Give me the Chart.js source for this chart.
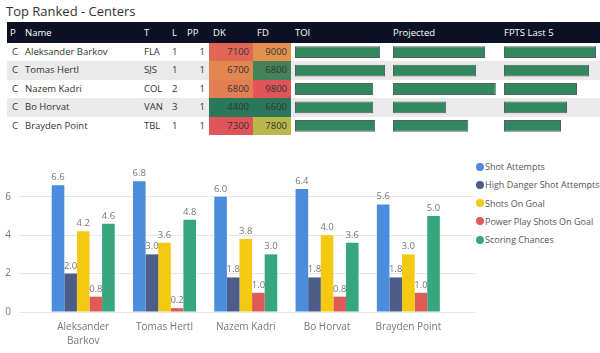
<!DOCTYPE html>
<html>
<head>
<meta charset="utf-8">
<script src="https://cdn.jsdelivr.net/npm/chart.js@4.4.0/dist/chart.umd.min.js"></script>
<style>
  body { margin: 0; width: 600px; height: 353px; overflow: hidden; background: #fff; position: relative; font-family: "Open Sans", sans-serif; }
  .title { position: absolute; left: 6px; top: 2px; font-size: 13px; line-height: 18px; color: #333; }
  .hdr { position: absolute; left: 7px; top: 22px; width: 593px; height: 21px; background: #0b1025; }
  .row { position: absolute; left: 7px; width: 593px; height: 18.4px; }
  .row.alt { background: #eaeaea; }
  .txt { position: absolute; font-size: 9.5px; line-height: 18.4px; color: #333; white-space: nowrap; }
  .htxt { position: absolute; top: 22px; font-size: 9.5px; line-height: 21px; color: #fff; white-space: nowrap; }
  .heat { position: absolute; height: 18.4px; }
  canvas { position: absolute; }
  .legend { position: absolute; left: 476px; top: 158px; }
  .legend div { height: 18.3px; line-height: 18.3px; font-size: 9px; color: #555; white-space: nowrap; }
  .legend span { display: inline-block; width: 8px; height: 8px; border-radius: 50%; margin-right: 1px; vertical-align: -0.5px; }
</style>
</head>
<body>
<div class="title">Top Ranked - Centers</div>
<div class="hdr"></div>
<div id="table"></div>
<canvas id="toiChart" width="95" height="92" style="left:295px;top:43px"></canvas>
<canvas id="projChart" width="107" height="92" style="left:393px;top:43px"></canvas>
<canvas id="fptsChart" width="96" height="92" style="left:504px;top:43px"></canvas>
<canvas id="statsChart" width="476" height="201" style="left:0;top:152px"></canvas>
<div class="legend" id="legend"></div>
<script>
// table data
const players = ["Aleksander Barkov", "Tomas Hertl", "Nazem Kadri", "Bo Horvat", "Brayden Point"];
const positions = ["C", "C", "C", "C", "C"];
const teams = ["FLA", "SJS", "COL", "VAN", "TBL"];
const lines = [1, 1, 2, 3, 1];
const ppUnits = [1, 1, 1, 1, 1];
const dkSalary = [7100, 6700, 6800, 4400, 7300];
const fdSalary = [9000, 6800, 9800, 6600, 7800];
const toi = [20.7, 21.9, 19.0, 19.0, 19.5];
const projected = [15.4, 13.9, 17.2, 8.9, 12.6];
const fptsLast5 = [18.4, 17.0, 14.6, 12.6, 11.4];

// chart data
const seriesNames = ["Shot Attempts", "High Danger Shot Attempts", "Shots On Goal", "Power Play Shots On Goal", "Scoring Chances"];
const shotAttempts = [6.6, 6.8, 6.0, 6.4, 5.6];
const highDanger = [2.0, 3.0, 1.8, 1.8, 1.8];
const shotsOnGoal = [4.2, 3.6, 3.8, 4.0, 3.0];
const ppShotsOnGoal = [0.8, 0.2, 1.0, 0.8, 1.0];
const scoringChances = [4.6, 4.8, 3.0, 3.6, 5.0];
const yTicks = [0, 2, 4, 6];

const seriesColors = ["#4A8DDC", "#4C5D8A", "#F3C911", "#DC5B57", "#35A67E"];
const FONT = '"Open Sans", sans-serif';
Chart.defaults.font.family = FONT;

// green -> yellow -> red scale for salaries
const lo = [42, 120, 89], mid = [232, 205, 70], hi = [224, 85, 88];
function heatColor(v, arr) {
  const min = Math.min(...arr), max = Math.max(...arr), m = (min + max) / 2;
  let a, b, t;
  if (v <= m) { a = lo; b = mid; t = (v - min) / (m - min); }
  else { a = mid; b = hi; t = (v - m) / (max - m); }
  const c = a.map((x, i) => Math.round(x + (b[i] - x) * t));
  return "rgb(" + c.join(",") + ")";
}

// header
const headers = [["P", 10], ["Name", 25], ["T", 144], ["L", 172], ["PP", 187], ["DK", 213], ["FD", 257], ["TOI", 295], ["Projected", 393], ["FPTS Last 5", 504]];
let html = "";
headers.forEach(([t, x]) => { html += `<div class="htxt" style="left:${x}px">${t}</div>`; });

players.forEach((name, i) => {
  const top = 43 + i * 18.4;
  html += `<div class="row${i % 2 ? " alt" : ""}" style="top:${top}px"></div>`;
  html += `<div class="heat" style="left:209px;width:44px;top:${top}px;background:${heatColor(dkSalary[i], dkSalary)}"></div>`;
  html += `<div class="heat" style="left:253px;width:38px;top:${top}px;background:${heatColor(fdSalary[i], fdSalary)}"></div>`;
  html += `<div class="txt" style="left:12px;top:${top}px">${positions[i]}</div>`;
  html += `<div class="txt" style="left:25px;top:${top}px">${name}</div>`;
  html += `<div class="txt" style="left:144px;top:${top}px">${teams[i]}</div>`;
  html += `<div class="txt" style="left:172px;top:${top}px">${lines[i]}</div>`;
  html += `<div class="txt" style="right:${600 - 205}px;top:${top}px">${ppUnits[i]}</div>`;
  html += `<div class="txt" style="right:${600 - 249}px;top:${top}px">${dkSalary[i]}</div>`;
  html += `<div class="txt" style="right:${600 - 287}px;top:${top}px">${fdSalary[i]}</div>`;
});
document.getElementById("table").innerHTML = html;

// data bars inside the table
const miniBars = (id, values, max) => {
  new Chart(document.getElementById(id), {
    type: "bar",
    data: {
      labels: players,
      datasets: [{
        data: values,
        backgroundColor: "#33875f",
        borderColor: "#55615c",
        borderWidth: 1,
        borderSkipped: false,
        categoryPercentage: 0.64,
        barPercentage: 1
      }]
    },
    options: {
      indexAxis: "y",
      responsive: false,
      animation: false,
      layout: { padding: 0 },
      plugins: { legend: { display: false }, tooltip: { enabled: false } },
      scales: {
        x: { display: false, min: 0, max: max },
        y: { display: false }
      }
    }
  });
};
miniBars("toiChart", toi, 23.1);
miniBars("projChart", projected, 17.9);
miniBars("fptsChart", fptsLast5, 19.2);

// value labels above bars
const barLabels = {
  id: "barLabels",
  afterDatasetsDraw(chart) {
    const ctx = chart.ctx;
    ctx.save();
    ctx.font = "9.5px " + FONT;
    ctx.fillStyle = "#777";
    ctx.textAlign = "center";
    ctx.textBaseline = "bottom";
    chart.data.datasets.forEach((ds, i) => {
      chart.getDatasetMeta(i).data.forEach((bar, j) => {
        ctx.fillText(ds.data[j].y.toFixed(1), bar.x, bar.y - 3);
      });
    });
    ctx.restore();
  }
};

const seriesValues = [shotAttempts, highDanger, shotsOnGoal, ppShotsOnGoal, scoringChances];
const xLabels = players.map((p) => (p.length > 14 ? p.split(" ") : p));

new Chart(document.getElementById("statsChart"), {
  type: "bar",
  data: {
    datasets: seriesNames.map((name, s) => ({
      label: name,
      data: seriesValues[s].map((v, i) => ({ x: i, y: v })),
      backgroundColor: seriesColors[s],
      categoryPercentage: 0.775,
      barPercentage: 1
    }))
  },
  options: {
    responsive: false,
    animation: false,
    layout: { padding: { left: 5, right: 1, top: 12, bottom: 0 } },
    plugins: { legend: { display: false }, tooltip: { enabled: false } },
    scales: {
      x: {
        type: "linear",
        offset: false,
        min: -0.79,
        max: 4.82,
        grid: { display: false, drawTicks: false },
        border: { display: false },
        afterBuildTicks: (axis) => { axis.ticks = players.map((p, i) => ({ value: i })); },
        afterFit: (axis) => { axis.height = 41; },
        ticks: {
          callback: (v) => xLabels[v],
          padding: 8,
          color: "#777",
          font: { size: 10, lineHeight: 1.4 },
          maxRotation: 0,
          autoSkip: false
        }
      },
      y: {
        min: 0,
        max: 7.6,
        afterBuildTicks: (axis) => { axis.ticks = yTicks.map((v) => ({ value: v })); },
        afterFit: (axis) => { axis.width = 14; },
        grid: { color: "#e6e6e6", drawTicks: false },
        border: { display: false },
        ticks: { padding: 8, color: "#777", font: { size: 10 } }
      }
    }
  },
  plugins: [barLabels]
});

// legend
document.getElementById("legend").innerHTML = seriesNames
  .map((n, s) => `<div><span style="background:${seriesColors[s]}"></span>${n}</div>`)
  .join("");
</script>
</body>
</html>
